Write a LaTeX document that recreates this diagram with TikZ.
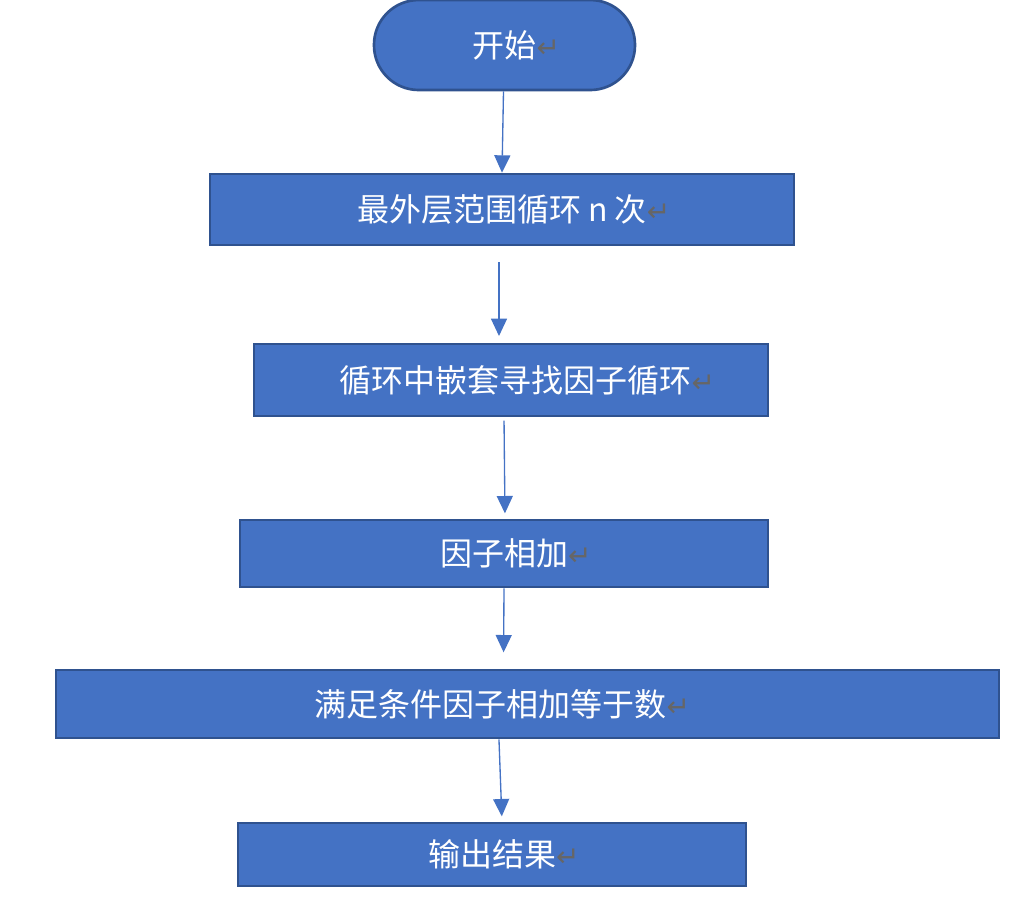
\documentclass[tikz,border=0pt]{standalone}
\usepackage{fontspec}
\setmainfont{Noto Sans CJK SC}
\newfontfamily\symfont{DejaVu Sans}
\usepackage{xcolor}
\usetikzlibrary{arrows.meta}
\definecolor{boxblue}{HTML}{4472C4}
\definecolor{boxedge}{HTML}{2F528F}
\newcommand{\pmark}{\rlap{\color{black!60}\symfont\fontsize{21}{22}\selectfont ↵}}

\begin{document}
\begin{tikzpicture}[x=0.75pt,y=-0.75pt,
    box/.style={draw=boxedge,fill=boxblue,line width=2pt,text=white,
      font=\fontsize{24}{28}\selectfont,inner sep=0pt},
    arr/.style={draw=boxblue,line width=1pt,-{Triangle[width=12pt,length=13pt]}}]
  \useasboundingbox (0,0) rectangle (1032,901);
  \node[box,rounded corners=33.5pt,minimum width=195.75pt,minimum height=67.5pt]
    (start) at (504.5,45) {开始\pmark};
  \node[box,minimum width=438pt,minimum height=53.25pt] (outer) at (502,209.5)
    {最外层范围循环 n 次\pmark};
  \node[box,minimum width=385.5pt,minimum height=54pt] (nest) at (511,380)
    {\hspace{7pt}循环中嵌套寻找因子循环\pmark};
  \node[box,minimum width=396pt,minimum height=50.25pt] (sum) at (504,553.5)
    {因子相加\pmark};
  \node[box,minimum width=707.25pt,minimum height=51pt] (cond) at (527.5,704)
    {满足条件因子相加等于数\pmark\kern55.5pt};
  \node[box,minimum width=381pt,minimum height=47.25pt] (out) at (492,854.5)
    {输出结果\pmark};
  \draw[arr] ([xshift=-0.75pt]start.south) -- (outer.north);
  \draw[arr,shorten <=12pt,shorten >=5pt] ([xshift=-2.25pt]outer.south) -- ([xshift=-9pt]nest.north);
  \draw[arr,shorten <=2.5pt,shorten >=4pt] ([xshift=-5.25pt]nest.south) -- ([xshift=0.75pt]sum.north);
  \draw[arr,shorten >=12.25pt] (sum.south) -- ([xshift=-18pt]cond.north);
  \draw[arr,shorten >=4pt] ([xshift=-21.4pt]cond.south) -- ([xshift=7.5pt]out.north);
\end{tikzpicture}
\end{document}
